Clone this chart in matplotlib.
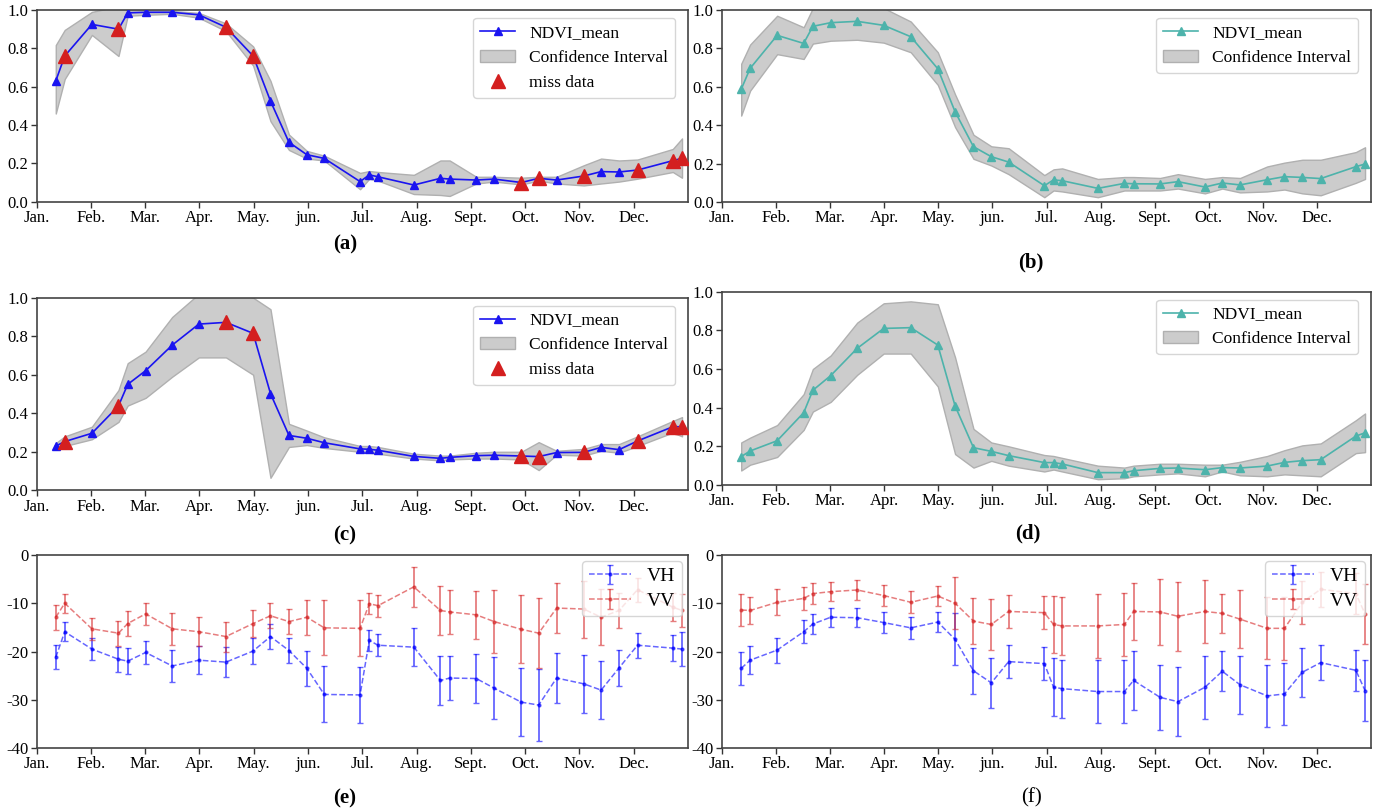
import numpy as np
import matplotlib.pyplot as plt

plt.rcParams['font.family'] = ['Liberation Serif', 'DejaVu Serif']
plt.rcParams['axes.unicode_minus'] = False

# acquisition positions, in months since 1 Jan
months_x = [0.355, 0.52, 1.02, 1.51, 1.68, 2.01, 2.5, 2.99, 3.49, 3.99, 4.31,
            4.65, 4.98, 5.30, 5.96, 6.13, 6.29, 6.95, 7.44, 7.61, 8.10, 8.43,
            8.93, 9.25, 9.58, 10.08, 10.40, 10.73, 11.07, 11.72, 11.89]
month_labels = ['Jan.', 'Feb.', 'Mar.', 'Apr.', 'May.', 'jun.', 'Jul.', 'Aug.',
                'Sept.', 'Oct.', 'Nov.', 'Dec.']
miss_idx = [1, 3, 8, 9, 22, 23, 25, 28, 29, 30]

# (a)
a_mean = [0.63, 0.76, 0.925, 0.90, 0.985, 0.988, 0.988, 0.975, 0.91, 0.76, 0.525,
          0.31, 0.245, 0.226, 0.105, 0.14, 0.13, 0.087, 0.122, 0.118, 0.113, 0.118,
          0.10, 0.122, 0.113, 0.134, 0.157, 0.155, 0.165, 0.214, 0.226]
a_up = [0.817, 0.896, 0.99, 1.02, 1.0, 1.0, 0.995, 0.985, 0.93, 0.81, 0.63,
        0.35, 0.265, 0.24, 0.15, 0.16, 0.155, 0.14, 0.215, 0.215, 0.13, 0.13,
        0.125, 0.13, 0.13, 0.19, 0.225, 0.215, 0.22, 0.275, 0.33]
a_lo = [0.46, 0.64, 0.87, 0.76, 0.97, 0.975, 0.98, 0.96, 0.89, 0.71, 0.42,
        0.27, 0.225, 0.215, 0.065, 0.12, 0.11, 0.04, 0.035, 0.03, 0.095, 0.105,
        0.09, 0.11, 0.095, 0.085, 0.095, 0.105, 0.12, 0.155, 0.125]

# (b)
b_mean = [0.587, 0.696, 0.868, 0.826, 0.915, 0.934, 0.941, 0.92, 0.861, 0.694, 0.47,
          0.288, 0.236, 0.208, 0.085, 0.115, 0.111, 0.071, 0.097, 0.095, 0.094, 0.106,
          0.078, 0.099, 0.089, 0.116, 0.132, 0.128, 0.122, 0.184, 0.198]
b_up = [0.72, 0.82, 0.97, 0.91, 1.01, 1.03, 1.03, 1.01, 0.94, 0.78, 0.56,
        0.35, 0.29, 0.28, 0.14, 0.17, 0.175, 0.12, 0.13, 0.13, 0.125, 0.145,
        0.12, 0.13, 0.125, 0.185, 0.205, 0.22, 0.22, 0.26, 0.285]
b_lo = [0.45, 0.58, 0.77, 0.745, 0.825, 0.84, 0.845, 0.83, 0.78, 0.61, 0.39,
        0.225, 0.19, 0.145, 0.025, 0.06, 0.055, 0.025, 0.06, 0.06, 0.06, 0.07,
        0.045, 0.07, 0.05, 0.055, 0.065, 0.045, 0.035, 0.1, 0.12]

# (c)
c_mean = [0.23, 0.253, 0.296, 0.438, 0.55, 0.621, 0.754, 0.863, 0.872, 0.815, 0.502,
          0.285, 0.27, 0.247, 0.215, 0.213, 0.208, 0.176, 0.166, 0.171, 0.18, 0.182,
          0.178, 0.175, 0.196, 0.197, 0.223, 0.211, 0.256, 0.33, 0.33]
c_up = [0.245, 0.28, 0.33, 0.52, 0.66, 0.72, 0.9, 1.02, 1.04, 1.0, 0.94,
        0.345, 0.31, 0.275, 0.23, 0.23, 0.225, 0.19, 0.18, 0.18, 0.195, 0.2,
        0.2, 0.25, 0.205, 0.215, 0.24, 0.24, 0.28, 0.36, 0.38]
c_lo = [0.215, 0.23, 0.265, 0.355, 0.44, 0.48, 0.59, 0.69, 0.69, 0.6, 0.065,
        0.225, 0.235, 0.22, 0.2, 0.195, 0.19, 0.165, 0.155, 0.16, 0.165, 0.165,
        0.16, 0.105, 0.185, 0.18, 0.205, 0.195, 0.23, 0.3, 0.28]

# (d)
d_mean = [0.147, 0.176, 0.229, 0.374, 0.49, 0.566, 0.707, 0.81, 0.814, 0.724, 0.409,
          0.193, 0.174, 0.152, 0.116, 0.116, 0.109, 0.064, 0.064, 0.074, 0.086, 0.088,
          0.079, 0.09, 0.088, 0.098, 0.117, 0.126, 0.131, 0.253, 0.27]
d_up = [0.22, 0.245, 0.31, 0.47, 0.6, 0.67, 0.84, 0.94, 0.95, 0.935, 0.66,
        0.29, 0.22, 0.2, 0.155, 0.15, 0.14, 0.1, 0.09, 0.1, 0.11, 0.11,
        0.105, 0.105, 0.12, 0.15, 0.18, 0.205, 0.215, 0.335, 0.37]
d_lo = [0.075, 0.105, 0.145, 0.285, 0.38, 0.43, 0.57, 0.68, 0.68, 0.51, 0.16,
        0.09, 0.125, 0.1, 0.07, 0.08, 0.07, 0.03, 0.035, 0.045, 0.055, 0.06,
        0.045, 0.07, 0.05, 0.045, 0.055, 0.05, 0.045, 0.165, 0.17]

# (e) backscatter, dB
e_vh = [-21.2, -15.9, -19.5, -21.6, -22.0, -20.2, -23.0, -21.8, -22.2, -19.9, -16.9,
        -19.8, -23.5, -28.9, -29.0, -17.7, -18.7, -19.1, -26.0, -25.5, -25.6, -27.6,
        -30.5, -31.1, -25.5, -26.7, -28.0, -23.4, -18.7, -19.3, -19.5]
e_vh_err = [2.5, 2.0, 2.3, 2.55, 2.65, 2.3, 3.25, 2.9, 3.1, 2.75, 2.6,
            2.6, 3.6, 5.8, 5.85, 2.25, 2.25, 3.95, 5.15, 4.6, 5.0, 6.45,
            7.1, 7.45, 5.25, 5.95, 5.95, 3.8, 2.55, 2.75, 3.5]
e_vv = [-12.9, -10.0, -15.3, -16.2, -14.2, -12.2, -15.3, -15.9, -16.9, -14.2, -12.6,
        -13.8, -12.9, -15.1, -15.2, -10.1, -10.5, -6.6, -11.5, -11.8, -12.4, -13.8,
        -15.4, -16.2, -11.0, -11.2, -12.9, -11.5, -7.2, -10.8, -11.5]
e_vv_err = [2.55, 1.95, 2.25, 2.6, 2.6, 2.3, 3.3, 3.0, 3.1, 2.75, 2.6,
            2.65, 3.6, 5.7, 5.8, 2.15, 2.3, 4.1, 5.05, 4.6, 4.95, 6.45,
            7.05, 7.3, 5.2, 5.9, 5.8, 3.7, 2.5, 2.85, 3.5]

# (f)
f_vh = [-23.5, -21.8, -19.7, -15.9, -14.3, -12.9, -13.0, -14.0, -15.1, -13.9, -17.5,
        -24.0, -26.5, -22.1, -22.5, -27.4, -27.7, -28.3, -28.3, -26.0, -29.5, -30.4,
        -27.4, -24.1, -26.9, -29.2, -28.8, -24.3, -22.3, -23.9, -28.1]
f_vh_err = [3.35, 2.85, 2.6, 2.4, 2.15, 1.95, 1.95, 2.1, 2.25, 2.05, 5.4,
            4.75, 5.25, 3.4, 3.4, 6.0, 6.0, 6.55, 6.55, 6.05, 6.8, 7.15,
            6.5, 4.15, 6.0, 6.45, 6.45, 5.05, 3.55, 4.25, 6.25]
f_vv = [-11.4, -11.5, -9.8, -9.0, -8.0, -7.6, -7.25, -8.4, -9.8, -8.5, -10.0,
        -13.7, -14.4, -11.7, -11.95, -14.4, -14.7, -14.7, -14.4, -11.7, -11.8, -12.7,
        -11.7, -12.1, -13.3, -15.2, -15.2, -9.8, -7.1, -8.0, -12.2]
f_vv_err = [3.35, 2.85, 2.7, 2.4, 2.15, 1.95, 2.0, 2.25, 2.3, 2.1, 5.4,
            4.7, 5.25, 3.5, 3.45, 6.0, 5.95, 6.6, 6.5, 6.0, 6.85, 7.2,
            6.5, 4.1, 5.95, 6.45, 6.5, 4.5, 3.6, 4.2, 6.25]

BLUE = '#1a14f0'
TEAL = '#4db3ab'
RED = '#d41f1f'
TICK_FS = 12


def style_axes(ax):
    ax.set_xlim(0, 12)
    ax.set_xticks(range(12))
    ax.set_xticklabels(month_labels)
    ax.tick_params(labelsize=TICK_FS, length=4, width=1, color='#333333', pad=2)
    for s in ax.spines.values():
        s.set_color('#444444')
        s.set_linewidth(1.2)


def ndvi_panel(ax, mean, lo, hi, color, miss=None):
    x = np.array(months_x)
    fill = ax.fill_between(x, lo, hi, facecolor='#cccccc', edgecolor='#b0b0b0',
                           linewidth=1, zorder=1, label='Confidence Interval')
    line, = ax.plot(x, mean, color=color, marker='^', ms=6, lw=1.2, zorder=3,
                    label='NDVI_mean')
    handles = [line, fill]
    if miss is not None:
        mm = np.array(mean)[miss]
        red, = ax.plot(x[miss], mm, ls='none', marker='^', ms=10, color=RED,
                       zorder=4, label='miss data')
        handles.append(red)
    ax.set_ylim(0, 1)
    ax.set_yticks(np.arange(0, 1.01, 0.2))
    ax.set_yticklabels(['%.1f' % v for v in np.arange(0, 1.01, 0.2)])
    style_axes(ax)
    ax.legend(handles=handles, loc='upper right', fontsize=12.5,
              bbox_to_anchor=(0.992, 1.0), borderaxespad=0.45)


def sar_panel(ax, vh, vh_err, vv, vv_err):
    x = np.array(months_x)
    ax.errorbar(x, vh, yerr=vh_err, fmt='--', marker='.', ms=4, color='b',
                alpha=0.6, capsize=2, elinewidth=1.3, lw=1.1, label='VH')
    ax.errorbar(x, vv, yerr=vv_err, fmt='--', marker='.', ms=4, color='#d62728',
                alpha=0.6, capsize=2, elinewidth=1.3, lw=1.1, label='VV')
    ax.set_ylim(-40, 0)
    ax.set_yticks([0, -10, -20, -30, -40])
    style_axes(ax)
    ax.legend(loc='upper right', fontsize=14, borderaxespad=0.3,
              handlelength=2.2, labelspacing=0.35, borderpad=0.35)


fig = plt.figure(figsize=(13.86, 8.09), dpi=100)
W, H = 1386.0, 809.0


def axes_px(x0, x1, y0, y1):
    return fig.add_axes([x0 / W, 1 - y1 / H, (x1 - x0) / W, (y1 - y0) / H])


ax_a = axes_px(36.5, 688, 10, 201.7)
ax_b = axes_px(722, 1371, 10, 202)
ax_c = axes_px(36.5, 688, 297.7, 490.3)
ax_d = axes_px(722, 1371, 291.7, 485)
ax_e = axes_px(36.5, 688, 555, 748)
ax_f = axes_px(722, 1371, 555, 748)

ndvi_panel(ax_a, a_mean, a_lo, a_up, BLUE, miss_idx)
ndvi_panel(ax_b, b_mean, b_lo, b_up, TEAL)
ndvi_panel(ax_c, c_mean, c_lo, c_up, BLUE, miss_idx)
ndvi_panel(ax_d, d_mean, d_lo, d_up, TEAL)
sar_panel(ax_e, e_vh, e_vh_err, e_vv, e_vv_err)
sar_panel(ax_f, f_vh, f_vh_err, f_vv, f_vv_err)

for lab, px, py, wt in [('(a)', 345, 244, 'bold'), ('(b)', 1031, 262, 'bold'),
                        ('(c)', 345, 535, 'bold'), ('(d)', 1028, 533, 'bold'),
                        ('(e)', 345, 798, 'bold'), ('(f)', 1031, 798, 'normal')]:
    fig.text(px / W, 1 - py / H, lab, ha='center', va='center', fontsize=15,
             fontweight=wt)

fig.savefig('out.png', dpi=100)
